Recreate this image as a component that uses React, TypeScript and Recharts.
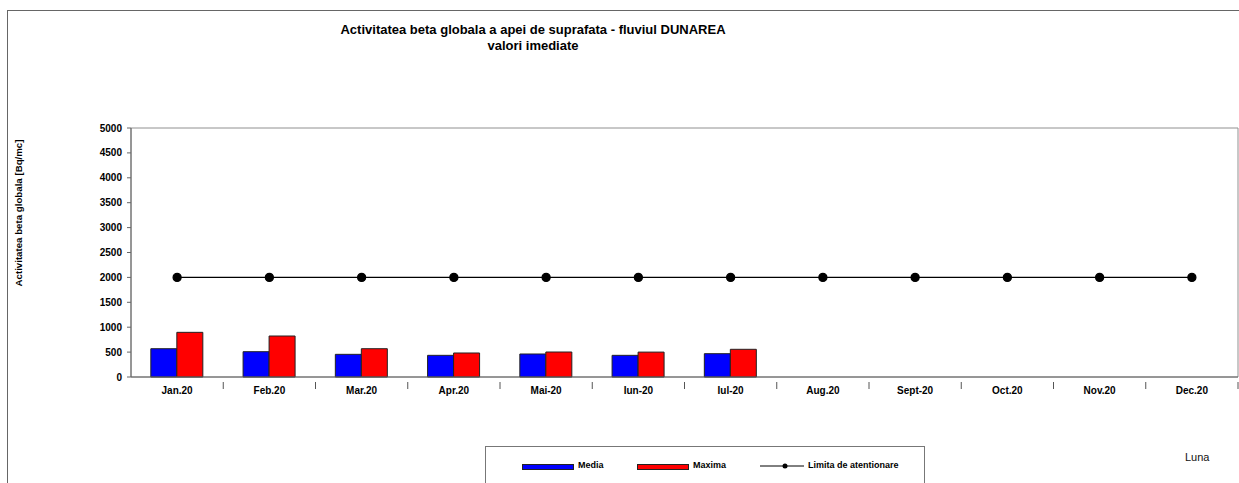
import {
  ComposedChart, Bar, Line, XAxis, YAxis, ReferenceArea,
} from "recharts";

const months = [
  "Jan.20", "Feb.20", "Mar.20", "Apr.20", "Mai-20", "Iun-20",
  "Iul-20", "Aug.20", "Sept-20", "Oct.20", "Nov.20", "Dec.20",
];
const media = [568, 508, 455, 435, 462, 435, 468, null, null, null, null, null];
const maxima = [897, 823, 568, 482, 502, 500, 556, null, null, null, null, null];
const limita = [2000, 2000, 2000, 2000, 2000, 2000, 2000, 2000, 2000, 2000, 2000, 2000];
const yTicks = [0, 500, 1000, 1500, 2000, 2500, 3000, 3500, 4000, 4500, 5000];
const seriesNames = ["Media", "Maxima", "Limita de atentionare"];

const FONT = "'Liberation Sans', Arial, sans-serif";

const chartData = months.map((m, i) => ({
  luna: m,
  media: media[i],
  maxima: maxima[i],
  limita: limita[i],
}));

// label at band centre, tick mark at band edge (excel style)
const MonthTick = (props: any) => {
  const { x, y, payload } = props;
  const half = payload?.offset ?? 46;
  return (
    <g>
      <line x1={x + half} x2={x + half} y1={y - 3} y2={y + 4} stroke="#555" strokeWidth={1} />
      <text x={x} y={y + 9} textAnchor="middle" fontSize={10} fontWeight="bold" fill="#000" fontFamily={FONT}>
        {payload.value}
      </text>
    </g>
  );
};

function LegendBox() {
  return (
    <div
      style={{
        position: "absolute", left: 485, top: 446, width: 438, height: 60,
        border: "1px solid #777", background: "#fff", fontFamily: FONT,
        fontSize: 9, fontWeight: "bold",
      }}
    >
      <div style={{ position: "absolute", left: 36, top: 17, width: 50, height: 4, background: "#0000ff", border: "1px solid #222" }} />
      <span style={{ position: "absolute", left: 92, top: 13 }}>{seriesNames[0]}</span>
      <div style={{ position: "absolute", left: 151, top: 17, width: 50, height: 4, background: "#ff0000", border: "1px solid #222" }} />
      <span style={{ position: "absolute", left: 207, top: 13 }}>{seriesNames[1]}</span>
      <svg style={{ position: "absolute", left: 274, top: 14 }} width={44} height={10}>
        <line x1={0} x2={44} y1={5} y2={5} stroke="#000" strokeWidth={1} />
        <circle cx={25} cy={5} r={2.5} fill="#000" />
      </svg>
      <span style={{ position: "absolute", left: 322, top: 13 }}>{seriesNames[2]}</span>
    </div>
  );
}

export default function App() {
  return (
    <div style={{ position: "absolute", left: 0, top: 0, width: 1239, height: 483, overflow: "hidden", background: "#fff", fontFamily: FONT }}>
      <div style={{ position: "absolute", left: 7, top: 10, width: 1260, height: 520, border: "1px solid #666" }} />

      <div style={{ position: "absolute", left: 233, top: 22, width: 600, textAlign: "center", fontSize: 13, fontWeight: "bold", lineHeight: "16px" }}>
        <div>Activitatea beta globala a apei de suprafata - fluviul DUNAREA</div>
        <div>valori imediate</div>
      </div>

      <div
        style={{
          position: "absolute", left: 18, top: 213, transform: "translate(-50%, -50%) rotate(-90deg)",
          whiteSpace: "nowrap", fontSize: 9.7, fontWeight: "bold",
        }}
      >
        Activitatea beta globala [Bq/mc]
      </div>

      <div style={{ position: "absolute", left: 0, top: 0 }}>
        <ComposedChart
          width={1239}
          height={483}
          data={chartData}
          margin={{ top: 128, right: 1, bottom: 86, left: 0 }}
          barCategoryGap="21.5%"
          barGap={0}
        >
          <ReferenceArea y1={0} y2={5000} fill="none" stroke="#909090" strokeWidth={1} />
          <XAxis
            dataKey="luna"
            height={20}
            axisLine={{ stroke: "#666" }}
            tickLine={false}
            interval={0}
            tick={<MonthTick />}
          />
          <YAxis
            width={131}
            domain={[0, 5000]}
            ticks={yTicks}
            interval={0}
            axisLine={{ stroke: "#666" }}
            tickLine={{ stroke: "#666" }}
            tickSize={4}
            tickMargin={5}
            tick={{ fontSize: 10, fontWeight: "bold", fill: "#000", fontFamily: FONT }}
          />
          <Bar dataKey="media" name={seriesNames[0]} fill="#0000ff" stroke="#222" strokeWidth={1} isAnimationActive={false} />
          <Bar dataKey="maxima" name={seriesNames[1]} fill="#ff0000" stroke="#222" strokeWidth={1} isAnimationActive={false} />
          <Line
            dataKey="limita"
            name={seriesNames[2]}
            stroke="#000"
            strokeWidth={1.3}
            dot={{ r: 4, fill: "#000", stroke: "#000" }}
            isAnimationActive={false}
          />
        </ComposedChart>
      </div>

      <LegendBox />

      <div style={{ position: "absolute", left: 1185, top: 451, fontSize: 11, color: "#111" }}>Luna</div>
    </div>
  );
}
